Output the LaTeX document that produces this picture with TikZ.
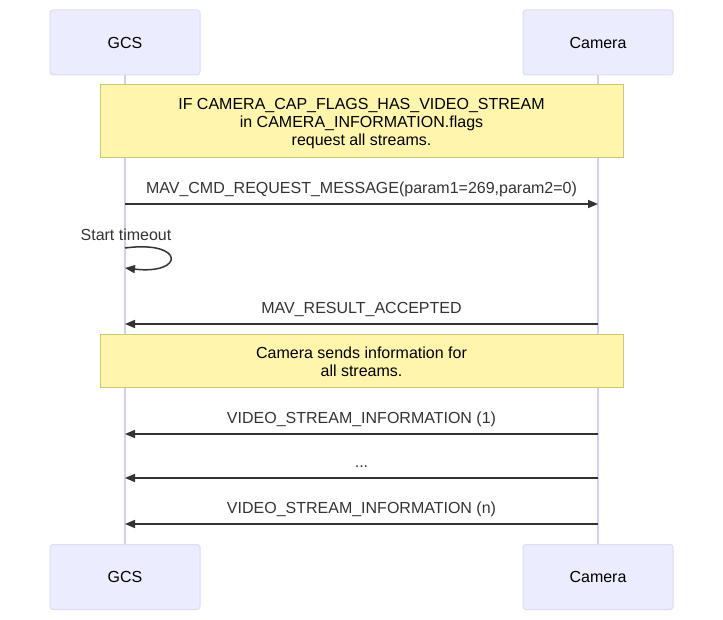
\documentclass[tikz,border=0pt]{standalone}
\usepackage{fontspec}
\setmainfont{Liberation Sans}
\usetikzlibrary{arrows.meta}
\definecolor{actfill}{HTML}{ECECFF}
\definecolor{actdraw}{HTML}{DCDCF5}
\definecolor{lifeline}{HTML}{D3CFEF}
\definecolor{notefill}{HTML}{FFF5AD}
\definecolor{notedraw}{HTML}{CCC773}
\definecolor{msg}{HTML}{333333}
\tikzset{
  x=1pt,y=-1pt,
  actor/.style={draw=actdraw,fill=actfill,rounded corners=3pt,line width=1pt,minimum width=150pt,minimum height=65pt,font=\fontsize{16}{19}\selectfont,inner sep=0pt},
  life/.style={draw=lifeline,line width=1.2pt},
  notebox/.style={draw=notedraw,fill=notefill,line width=1pt,minimum width=523pt,inner sep=0pt},
  notetext/.style={align=center,font=\fontsize{16}{18}\selectfont,inner sep=0pt,text=black},
  msgline/.style={draw=msg,line width=1.5pt,-{Triangle[length=10pt,width=8pt]}},
  lbl/.style={font=\fontsize{16}{19}\selectfont,text=msg,inner sep=0pt}
}
\begin{document}
\begin{tikzpicture}
\useasboundingbox (0,0) rectangle (723,620);
% actors
\node[actor] (gcsT) at (125,42.5) {GCS};
\node[actor] (camT) at (598,42.5) {Camera};
\node[actor] (gcsB) at (125,577) {GCS};
\node[actor] (camB) at (598,577) {Camera};
% lifelines
\draw[life] (gcsT.south) -- (gcsB.north);
\draw[life] (camT.south) -- (camB.north);
% note 1
\node[notebox,minimum height=73pt,label={[notetext,yshift=-2.5pt]center:{IF CAMERA\_CAP\_FLAGS\_HAS\_VIDEO\_STREAM\\in CAMERA\_INFORMATION.flags\\request all streams.}}] (n1) at (361.5,121.5) {};
% message 1
\coordinate (g1) at (125,204);
\coordinate (c1) at (598,204);
\draw[msgline] (g1) -- (c1);
\node[lbl] (l1) at (361.5,189) {MAV\_CMD\_REQUEST\_MESSAGE(param1=269,param2=0)};
% self loop
\node[lbl] (st) at (126,235) {Start timeout};
\coordinate (s1) at (125,248);
\coordinate (s2) at (125,268);
\draw[msg,line width=1.5pt,-{Triangle[length=10pt,width=8pt]}] (s1) .. controls (185,240) and (185,275) .. (s2);
% message 2
\coordinate (c2) at (598,324);
\coordinate (g2) at (125,324);
\draw[msgline] (c2) -- (g2);
\node[lbl] (l2) at (361.5,309.5) {MAV\_RESULT\_ACCEPTED};
% note 2
\node[notebox,minimum height=53pt,label={[notetext,yshift=-1pt]center:{Camera sends information for\\all streams.}}] (n2) at (361.5,361) {};
% message 3
\coordinate (c3) at (598,434);
\coordinate (g3) at (125,434);
\draw[msgline] (c3) -- (g3);
\node[lbl] (l3) at (361.5,419.5) {VIDEO\_STREAM\_INFORMATION (1)};
% message dots
\coordinate (c4) at (598,478);
\coordinate (g4) at (125,478);
\draw[msgline] (c4) -- (g4);
\node[lbl] (l4) at (361.5,466.5) {...};
% message n
\coordinate (c5) at (598,524);
\coordinate (g5) at (125,524);
\draw[msgline] (c5) -- (g5);
\node[lbl] (l5) at (361.5,509.5) {VIDEO\_STREAM\_INFORMATION (n)};
\end{tikzpicture}
\end{document}
